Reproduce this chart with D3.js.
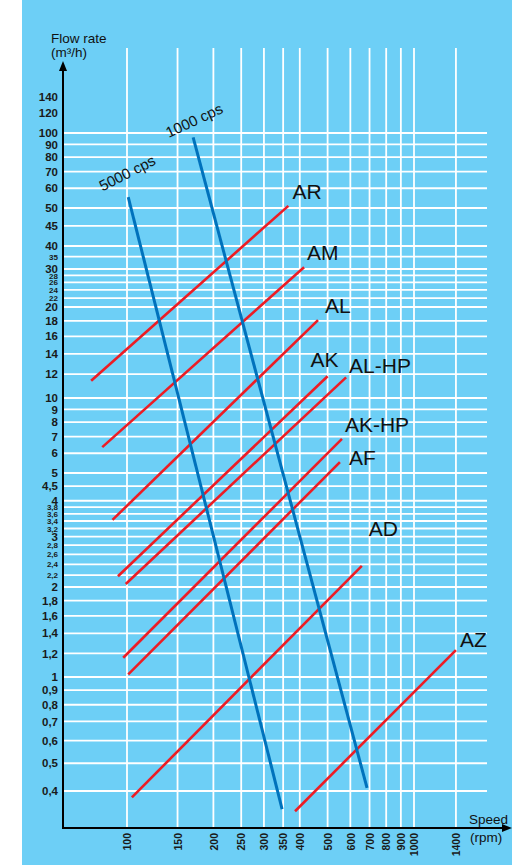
<!DOCTYPE html>
<html>
<head>
<meta charset="utf-8">
<script src="https://cdn.jsdelivr.net/npm/d3@7"></script>
<style>
  body { margin: 0; background: #fff; }
  svg { display: block; }
  text { font-family: "Liberation Sans", Arial, Helvetica, sans-serif; }
</style>
</head>
<body>
<div id="chart"></div>
<script>
// Speed ticks (rpm) and flow rate ticks (m3/h)
const speedTicks = [100, 150, 200, 250, 300, 350, 400, 500, 600, 700, 800, 900, 1000, 1400];
const flowTicks = [140, 120, 100, 90, 80, 70, 60, 50, 45, 40, 35, 30, 28, 26, 24, 22, 20, 18, 16, 14, 12,
                   10, 9, 8, 7, 6, 5, 4.5, 4, 3.8, 3.6, 3.4, 3.2, 3, 2.8, 2.6, 2.4, 2.2, 2, 1.8, 1.6, 1.4, 1.2,
                   1, 0.9, 0.8, 0.7, 0.6, 0.5, 0.4];
const smallTicks = [35, 28, 26, 24, 22, 3.8, 3.6, 3.4, 3.2, 2.8, 2.6, 2.4, 2.2];
const unruledTicks = [140, 120];

// Pump lines: [speed, flow] at each end
const pumpNames = ["AR", "AM", "AL", "AK", "AL-HP", "AK-HP", "AF", "AD", "AZ"];
const pumpFrom = [[75, 11.4], [82, 6.35], [89, 3.43], [93, 2.18], [99, 2.05], [97, 1.16], [101, 1.02], [104, 0.38], [385, 0.34]];
const pumpTo = [[365, 51], [414, 30.7], [463, 18.1], [500, 11.8], [580, 11.7], [561, 6.85], [552, 5.53], [658, 2.37], [1400, 1.23]];

// Viscosity limit lines
const viscNames = ["5000 cps", "1000 cps"];
const viscFrom = [[101, 55.3], [170, 96]];
const viscTo = [[347, 0.346], [686, 0.41]];

const width = 512;
const height = 865;
const axisX = 63;
const axisY = 828;

const svg = d3.select("#chart")
    .append("svg")
    .attr("width", width)
    .attr("height", height);

svg.append("rect")
    .attr("x", 22).attr("y", 0)
    .attr("width", width - 22).attr("height", height)
    .attr("fill", "#6dcff6");

// Log scales (the printed flow axis is slightly uneven, hence the extra knots)
const x = d3.scaleLog()
    .domain([100, 1000])
    .range([127, 414]);

const y = d3.scaleLog()
    .domain([0.4, 1, 2, 5, 10, 20, 30, 40, 50, 100])
    .range([791, 677, 587, 473, 398, 307, 269, 246, 208, 133]);

// Grid
const grid = svg.append("g").attr("stroke", "#fff").attr("stroke-width", 1.8);

grid.selectAll("line.h")
    .data(flowTicks.filter(v => !unruledTicks.includes(v)))
    .enter().append("line")
    .attr("class", "h")
    .attr("x1", axisX).attr("x2", 487)
    .attr("y1", d => y(d)).attr("y2", d => y(d));

grid.selectAll("line.v")
    .data(speedTicks)
    .enter().append("line")
    .attr("class", "v")
    .attr("x1", d => x(d)).attr("x2", d => x(d))
    .attr("y1", 48).attr("y2", axisY);

// Pump lines
svg.selectAll("line.pump")
    .data(pumpNames)
    .enter().append("line")
    .attr("class", "pump")
    .attr("x1", (d, i) => x(pumpFrom[i][0]))
    .attr("y1", (d, i) => y(pumpFrom[i][1]))
    .attr("x2", (d, i) => x(pumpTo[i][0]))
    .attr("y2", (d, i) => y(pumpTo[i][1]))
    .attr("stroke", "#ed1c24")
    .attr("stroke-width", 2.6);

const labelNudge = {
    "AR": [4, -7], "AM": [3, -7], "AL": [7, -7], "AK": [-17, -9], "AL-HP": [3, -4],
    "AK-HP": [3, -7], "AF": [9, 3], "AD": [7, -30], "AZ": [4, -3]
};

svg.selectAll("text.pump")
    .data(pumpNames)
    .enter().append("text")
    .attr("class", "pump")
    .attr("x", (d, i) => x(pumpTo[i][0]) + labelNudge[d][0])
    .attr("y", (d, i) => y(pumpTo[i][1]) + labelNudge[d][1])
    .style("font-size", "21px")
    .style("fill", "#111")
    .text(d => d);

// Viscosity lines
svg.selectAll("line.visc")
    .data(viscNames)
    .enter().append("line")
    .attr("class", "visc")
    .attr("x1", (d, i) => x(viscFrom[i][0]))
    .attr("y1", (d, i) => y(viscFrom[i][1]))
    .attr("x2", (d, i) => x(viscTo[i][0]))
    .attr("y2", (d, i) => y(viscTo[i][1]))
    .attr("stroke", "#0072bc")
    .attr("stroke-width", 3);

const viscLabel = [[-1, -24, -27], [1, -17, -25]];

svg.selectAll("text.visc")
    .data(viscNames)
    .enter().append("text")
    .attr("class", "visc")
    .attr("transform", (d, i) => {
        const px = x(viscFrom[i][0]) + viscLabel[i][0];
        const py = y(viscFrom[i][1]) + viscLabel[i][1];
        return `translate(${px},${py}) rotate(${viscLabel[i][2]})`;
    })
    .attr("text-anchor", "middle")
    .attr("dy", "0.35em")
    .style("font-size", "15px")
    .style("fill", "#111")
    .text(d => d);

// Axes
const fmt = v => String(v).replace(".", ",");

const yAxis = svg.append("g")
    .attr("transform", `translate(${axisX},0)`)
    .call(d3.axisLeft(y).tickValues(flowTicks).tickFormat(fmt).tickSize(0).tickPadding(5));
yAxis.select(".domain").remove();
yAxis.selectAll("text")
    .style("font-family", "'Liberation Sans', Arial, sans-serif")
    .style("font-weight", "bold")
    .style("fill", "#1a1a1a")
    .style("font-size", d => smallTicks.includes(d) ? "8px" : "11.5px");

const xAxis = svg.append("g")
    .attr("transform", `translate(0,${axisY})`)
    .call(d3.axisBottom(x).tickValues(speedTicks).tickFormat(d => d).tickSize(0));
xAxis.select(".domain").remove();
xAxis.selectAll("text")
    .attr("transform", "rotate(-90)")
    .attr("x", -5)
    .attr("y", 0)
    .attr("dy", "0.35em")
    .attr("text-anchor", "end")
    .style("font-family", "'Liberation Sans', Arial, sans-serif")
    .style("font-weight", "bold")
    .style("font-size", "10.5px")
    .style("fill", "#1a1a1a");

svg.append("line")
    .attr("x1", axisX).attr("x2", axisX)
    .attr("y1", 68).attr("y2", axisY + 1)
    .attr("stroke", "#000").attr("stroke-width", 2);
svg.append("line")
    .attr("x1", axisX - 1).attr("x2", 505)
    .attr("y1", axisY).attr("y2", axisY)
    .attr("stroke", "#000").attr("stroke-width", 2);
svg.append("path")
    .attr("d", `M${axisX},61 L${axisX - 4},71 L${axisX + 4},71 Z`)
    .attr("fill", "#000");
svg.append("path")
    .attr("d", `M512,${axisY} L502,${axisY - 4} L502,${axisY + 4} Z`)
    .attr("fill", "#000");

// Axis titles
const title = svg.append("text")
    .attr("x", 51).attr("y", 43)
    .style("font-size", "13.5px")
    .style("fill", "#111");
title.append("tspan").text("Flow rate");
title.append("tspan").attr("x", 51).attr("y", 57).text("(m³/h)");

const speedTitle = svg.append("text")
    .attr("x", 469).attr("y", 824)
    .style("font-size", "13.5px")
    .style("fill", "#111");
speedTitle.append("tspan").text("Speed");
speedTitle.append("tspan").attr("x", 470).attr("y", 842).text("(rpm)");
</script>
</body>
</html>
